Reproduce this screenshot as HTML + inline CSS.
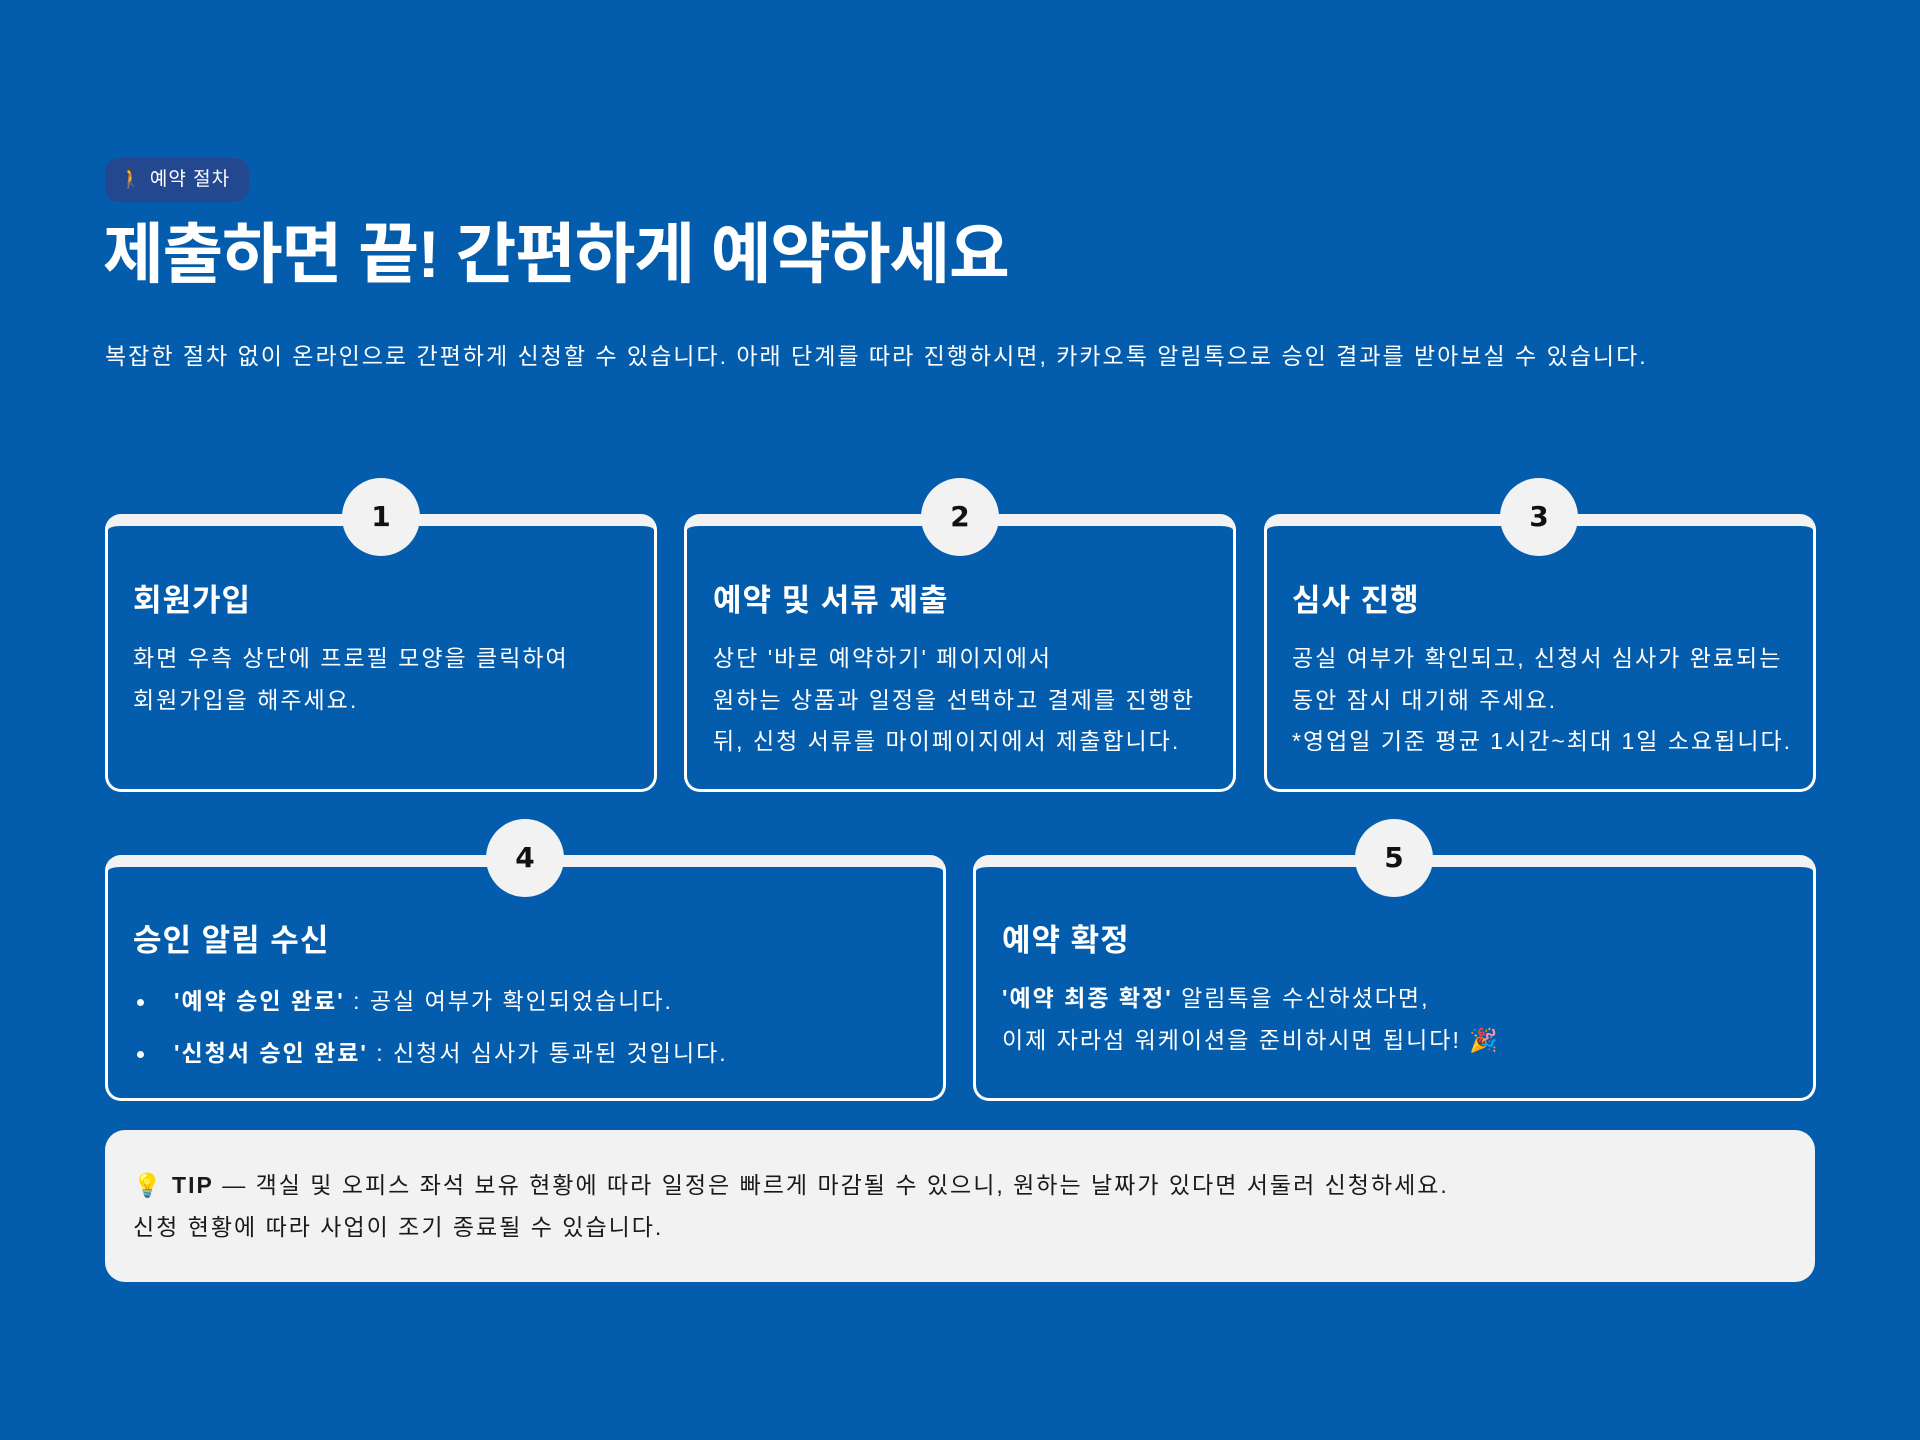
<!DOCTYPE html>
<html><head><meta charset="utf-8"><style>
*{margin:0;padding:0;box-sizing:border-box}
body{width:1920px;height:1440px;background:#045cad;font-family:"Liberation Sans","Noto Sans CJK KR",sans-serif;color:#fff;position:relative;overflow:hidden}
.abs{position:absolute}
.badge{left:105px;top:158px;width:144px;height:44px;background:#24488f;border-radius:14px;font-size:19px;line-height:44px;padding-left:14px;white-space:nowrap;letter-spacing:1px}
h1{position:absolute;left:103px;top:214px;font-size:66px;font-weight:700;letter-spacing:-1.2px;line-height:80px;white-space:nowrap}
.sub{left:105px;top:338px;font-size:23px;line-height:36px;white-space:nowrap;letter-spacing:2px}
.card{position:absolute;border:3px solid #fff;border-top:12px solid #f2f2f2;border-radius:16px}
.num{position:absolute;width:78px;height:78px;border-radius:50%;background:#f2f2f2;color:#111;font-weight:700;font-size:28px;text-align:center;line-height:78px;font-family:"DejaVu Sans","Liberation Sans",sans-serif}
.ct{position:absolute;font-size:31px;font-weight:700;line-height:40px;white-space:nowrap;letter-spacing:1px}
.cb{position:absolute;font-size:23px;line-height:41.5px;white-space:nowrap;letter-spacing:2px}
.dot{display:inline-block;width:7px;height:7px;border-radius:50%;background:#fff;margin-right:30px;vertical-align:middle;margin-left:4px}
.tip{left:105px;top:1130px;width:1710px;height:152px;background:#f2f2f2;border-radius:20px;color:#1a1a1a;font-size:23px;line-height:42px;padding:34px 0 0 28px;white-space:nowrap;letter-spacing:2px}
</style></head><body>
<div class="abs badge">🚶 예약 절차</div>
<h1>제출하면 끝! 간편하게 예약하세요</h1>
<div class="abs sub">복잡한 절차 없이 온라인으로 간편하게 신청할 수 있습니다. 아래 단계를 따라 진행하시면, 카카오톡 알림톡으로 승인 결과를 받아보실 수 있습니다.</div>

<div class="card" style="left:105px;top:514px;width:552px;height:278px"></div>
<div class="card" style="left:684px;top:514px;width:552px;height:278px"></div>
<div class="card" style="left:1264px;top:514px;width:552px;height:278px"></div>
<div class="card" style="left:105px;top:855px;width:841px;height:246px"></div>
<div class="card" style="left:973px;top:855px;width:843px;height:246px"></div>

<div class="num" style="left:342px;top:478px">1</div>
<div class="num" style="left:921px;top:478px">2</div>
<div class="num" style="left:1500px;top:478px">3</div>
<div class="num" style="left:486px;top:819px">4</div>
<div class="num" style="left:1355px;top:819px">5</div>

<div class="ct" style="left:133px;top:581px">회원가입</div>
<div class="cb" style="left:133px;top:638px">화면 우측 상단에 프로필 모양을 클릭하여<br>회원가입을 해주세요.</div>

<div class="ct" style="left:713px;top:581px">예약 및 서류 제출</div>
<div class="cb" style="left:713px;top:638px">상단 '바로 예약하기' 페이지에서<br>원하는 상품과 일정을 선택하고 결제를 진행한<br>뒤, 신청 서류를 마이페이지에서 제출합니다.</div>

<div class="ct" style="left:1292px;top:581px">심사 진행</div>
<div class="cb" style="left:1292px;top:638px">공실 여부가 확인되고, 신청서 심사가 완료되는<br>동안 잠시 대기해 주세요.<br>*영업일 기준 평균 1시간~최대 1일 소요됩니다.</div>

<div class="ct" style="left:133px;top:921px">승인 알림 수신</div>
<div class="cb" style="left:133px;top:975px;line-height:52px"><span class="dot"></span><b>'예약 승인 완료'</b> : 공실 여부가 확인되었습니다.<br><span class="dot"></span><b>'신청서 승인 완료'</b> : 신청서 심사가 통과된 것입니다.</div>

<div class="ct" style="left:1002px;top:921px">예약 확정</div>
<div class="cb" style="left:1002px;top:978px"><b>'예약 최종 확정'</b> 알림톡을 수신하셨다면,<br>이제 자라섬 워케이션을 준비하시면 됩니다! 🎉</div>

<div class="abs tip">💡 <b>TIP</b> — 객실 및 오피스 좌석 보유 현황에 따라 일정은 빠르게 마감될 수 있으니, 원하는 날짜가 있다면 서둘러 신청하세요.<br>신청 현황에 따라 사업이 조기 종료될 수 있습니다.</div>
</body></html>
